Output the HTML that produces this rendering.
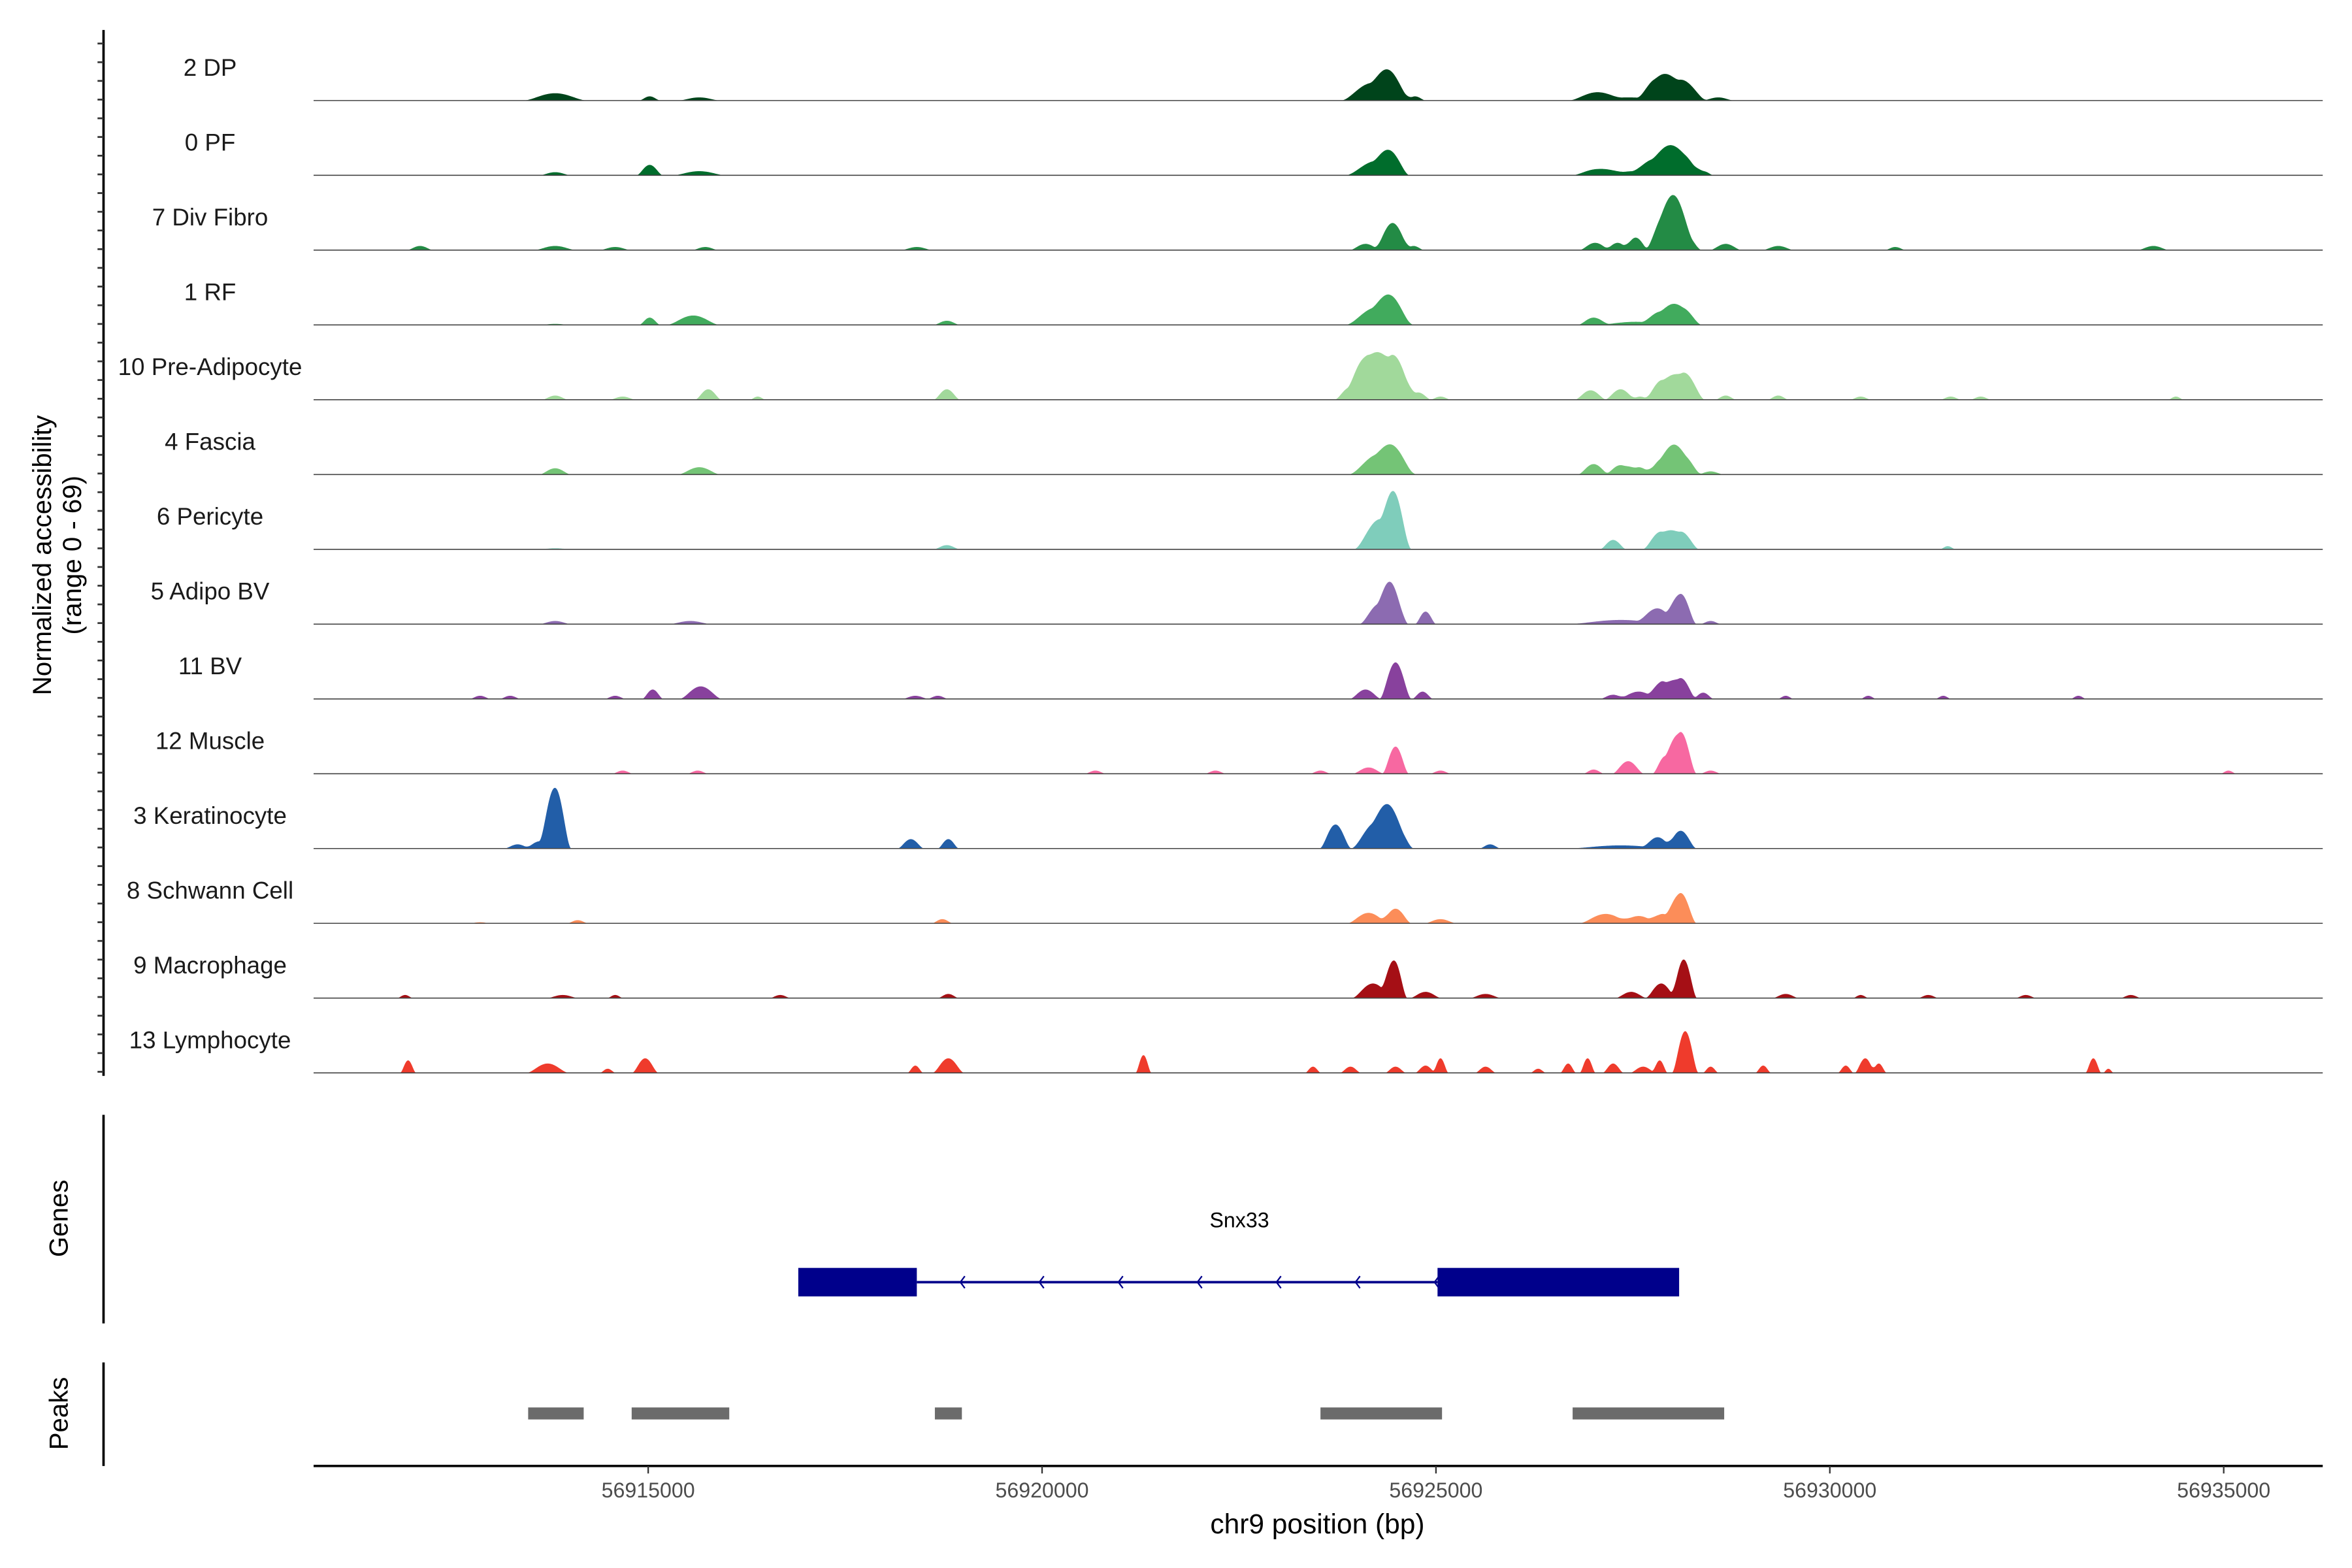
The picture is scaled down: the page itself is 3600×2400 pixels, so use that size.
<!DOCTYPE html>
<html><head><meta charset="utf-8"><style>html,body{margin:0;padding:0;background:#fff}svg{display:block}text{font-family:"Liberation Sans",Arial,sans-serif}</style></head>
<body>
<svg id="chart" width="3600" height="2400" viewBox="0 0 1567.5 1045" preserveAspectRatio="none" xmlns="http://www.w3.org/2000/svg">
<g id="tracks"></g>
<g id="frame"></g>
</svg>
<script>
// ---- data ----
const trackNames = ["2 DP","0 PF","7 Div Fibro","1 RF","10 Pre-Adipocyte","4 Fascia","6 Pericyte","5 Adipo BV","11 BV","12 Muscle","3 Keratinocyte","8 Schwann Cell","9 Macrophage","13 Lymphocyte"];
const trackColors = ["#00441b","#006d2c","#238b45","#41ab5d","#a1d99b","#74c476","#7fcdbb","#8c6bb1","#88419d","#f768a1","#225ea8","#fc8d59","#a50f15","#ef3b2c"];
const xTicks = [56915000,56920000,56925000,56930000,56935000];
const yRangeMax = 69;
// peaks per track: [position bp, half width bp, accessibility]
const peaksDP = [[56913819,229,7],[56915019,76,4],[56915648,152,3],[56924201,229,17],[56924430,152,20],[56924735,76,4],[56927021,190,7],[56927440,343,3],[56927821,152,20],[56928106,190,20],[56928583,114,3]];
const peaksPF = [[56913819,114,3],[56915019,95,10],[56915648,190,4],[56924258,229,14],[56924430,133,14],[56927059,190,6],[56927535,286,4],[56927821,190,14],[56928068,190,23],[56928392,76,4]];
const peaksDivFibro = [[56912104,95,4],[56913819,152,4],[56914581,114,3],[56915724,95,3],[56918410,114,3],[56924106,114,6],[56924449,133,26],[56924716,76,4],[56927021,114,7],[56927306,95,7],[56927535,95,12],[56927954,171,40],[56928106,152,20],[56928678,114,6],[56929345,114,4],[56930831,76,3],[56934107,114,4]];
const peaksRF = [[56913819,114,1],[56915019,76,7],[56915572,190,9],[56918791,95,4],[56924258,229,17],[56924449,152,17],[56927002,114,7],[56927535,286,3],[56927878,152,12],[56928106,152,17]];
const peaksPreAdipo = [[56913819,95,4],[56914676,95,3],[56915762,95,10],[56916391,57,3],[56918791,95,10],[56923915,114,12],[56924144,152,43],[56924449,171,43],[56924773,95,7],[56925058,76,3],[56926963,114,9],[56927344,114,10],[56927592,76,3],[56927878,133,19],[56928145,152,26],[56928678,76,4],[56929345,76,4],[56930392,76,3],[56931535,76,3],[56931916,76,3],[56934393,57,3]];
const peaksFascia = [[56913819,114,6],[56915648,152,7],[56924296,229,20],[56924487,152,14],[56927002,114,10],[56927344,114,9],[56927573,114,7],[56927916,152,17],[56928106,152,20],[56928487,95,3]];
const peaksPericyte = [[56913819,114,1],[56918791,95,4],[56924296,190,29],[56924487,114,40],[56927249,95,9],[56927859,133,17],[56928106,133,17],[56931497,57,3]];
const peaksAdipoBV = [[56913819,114,3],[56915533,152,3],[56924296,152,20],[56924449,114,29],[56924868,76,12],[56927344,381,4],[56927821,152,14],[56928106,114,29],[56928487,76,3]];
const peaksBV = [[56912866,76,3],[56913247,76,3],[56914581,76,3],[56915057,76,9],[56915667,152,12],[56918391,95,3],[56918677,76,3],[56924106,114,9],[56924487,114,35],[56924830,76,7],[56927249,95,4],[56927573,152,7],[56927878,114,17],[56928106,114,20],[56928392,76,6],[56929440,57,3],[56930488,57,3],[56931440,57,3],[56933155,57,3]];
const peaksMuscle = [[56914676,76,3],[56915629,76,3],[56920677,76,3],[56922201,76,3],[56923534,76,3],[56924144,114,6],[56924487,95,26],[56925058,76,3],[56927002,76,4],[56927440,114,12],[56927916,95,17],[56928106,114,40],[56928487,76,3],[56935060,57,3]];
const peaksKera = [[56913343,95,4],[56913628,114,7],[56913819,114,58],[56918334,95,9],[56918810,76,9],[56923725,114,23],[56924258,190,26],[56924449,152,26],[56925687,76,4],[56927344,381,3],[56927821,114,10],[56928106,114,17]];
const peaksSchwann = [[56912866,76,1],[56914105,76,3],[56918734,76,4],[56924144,152,10],[56924487,114,14],[56925058,114,4],[56927154,190,9],[56927573,152,7],[56927878,114,9],[56928106,114,29]];
const peaksMacro = [[56911914,57,3],[56913914,114,3],[56914581,57,3],[56916676,76,3],[56918810,76,4],[56924201,152,14],[56924468,95,36],[56924868,114,6],[56925630,114,4],[56927478,114,6],[56927859,114,14],[56928145,95,37],[56929440,95,4],[56930392,57,3],[56931250,76,3],[56932488,76,3],[56933821,76,3]];
const peaksLympho = [[56911952,57,12],[56913724,152,9],[56914486,57,4],[56914962,95,14],[56918391,57,7],[56918810,114,14],[56921287,57,17],[56923439,57,6],[56923915,76,6],[56924487,76,6],[56924868,76,7],[56925058,57,14],[56925630,76,6],[56926297,57,4],[56926678,57,9],[56926925,57,14],[56927249,76,9],[56927630,95,6],[56927840,57,12],[56928164,95,40],[56928487,57,6],[56929154,57,7],[56930202,57,7],[56930450,76,14],[56930621,57,9],[56933345,57,14],[56933536,38,4]];
const trackPeaks = [peaksDP,peaksPF,peaksDivFibro,peaksRF,peaksPreAdipo,peaksFascia,peaksPericyte,peaksAdipoBV,peaksBV,peaksMuscle,peaksKera,peaksSchwann,peaksMacro,peaksLympho];
const geneExons = [[56916905,56918410],[56925020,56928087]];
const geneName = "Snx33";
const peakRegions = [[56913476,56914181],[56914790,56916029],[56918639,56918982],[56923534,56925077],[56926735,56928659]];

// ---- scales ----
const X0 = 209, X1 = 1548;
const xs = bp => 432 + (bp - 56915000) * 0.0525;
const bpAt = px => 56915000 + (px - 432) / 0.0525;
const trackBase = i => 67 + i * 49.85;
const yUnit = 48 / yRangeMax;
const WIDEN = 1.8;
const NS = "http://www.w3.org/2000/svg";
function mk(tag, attrs, parent, txt){
  const e = document.createElementNS(NS, tag);
  for (const k in attrs) e.setAttribute(k, attrs[k]);
  if (txt !== undefined) e.textContent = txt;
  parent.appendChild(e); return e;
}
const tracks = document.getElementById('tracks');
const frame = document.getElementById('frame');

trackPeaks.forEach((peaks, i) => {
  const base = trackBase(i);
  const g = mk('g', {}, tracks);
  
  
  let inside = false, seg = [];
  const paths = [];
  for (let px = X0; px <= X1; px += 0.5) {
    const bp = bpAt(px);
    let v = 0;
    peaks.forEach(p => { const hw = p[1] * WIDEN; const d = Math.abs(bp - p[0]); if (d < hw) { const u = d / hw; v += p[2] * Math.pow(1 - u * u, 2); } });
    if (v > 0.05) { if (!inside) { seg = [[px, base]]; inside = true; } seg.push([px, base - v * yUnit]); }
    else if (inside) { seg.push([px, base]); paths.push(seg); inside = false; }
  }
  if (inside) { seg.push([X1, base]); paths.push(seg); }
  paths.forEach(s => {
    const p = mk('path', {d: 'M' + s.map(q => q[0].toFixed(1) + ',' + q[1].toFixed(2)).join('L') + 'Z', fill: trackColors[i]}, g);
    
    
  });
  const bl = mk('line', {x1: X0, x2: X1, y1: base, y2: base, stroke: '#444', 'stroke-width': 0.7}, g);
  
  
  const lab = mk('text', {x: 140, y: base - 16.5, 'text-anchor': 'middle', 'font-size': 16, fill: '#1a1a1a'}, g, trackNames[i]);
  
  
});

// left axis with minor ticks
const la = mk('line', {x1: 69, x2: 69, y1: 20, y2: 717, stroke: '#000', 'stroke-width': 1.6}, frame);


for (let y = 29; y <= 716; y += 12.46) {
  const t = mk('line', {x1: 65, x2: 69, y1: y, y2: y, stroke: '#333', 'stroke-width': 1.2}, frame);
  
  
}
const yt = mk('text', {transform: 'translate(34,370) rotate(-90)', 'text-anchor': 'middle', 'font-size': 17.5, fill: '#000'}, frame);


mk('tspan', {x: 0, y: 0}, yt, 'Normalized accessibility');
mk('tspan', {x: 0, y: 20}, yt, '(range 0 - 69)');

// gene panel
const ga = mk('line', {x1: 69, x2: 69, y1: 743, y2: 882, stroke: '#000', 'stroke-width': 1.6}, frame);


const gt = mk('text', {transform: 'translate(45,812) rotate(-90)', 'text-anchor': 'middle', 'font-size': 17.5}, frame, 'Genes');


const gg = mk('g', {}, frame);


const intr = mk('line', {x1: xs(geneExons[0][1]), x2: xs(geneExons[1][0]), y1: 854.5, y2: 854.5, stroke: '#00008b', 'stroke-width': 1.6}, gg);


const a0 = xs(geneExons[0][1]), a1 = xs(geneExons[1][0]);
for (let k = 0; k < 7; k++) {
  const ax = a0 + 29 + k * (a1 - a0 - 31) / 6;
  const ch = mk('path', {d: `M${ax+3},850.5 L${ax},854.5 L${ax+3},858.5`, fill: 'none', stroke: '#00008b', 'stroke-width': 1}, gg);
  
  
}
geneExons.forEach(ex => {
  const r = mk('rect', {x: xs(ex[0]), y: 845, width: xs(ex[1]) - xs(ex[0]), height: 19, fill: '#00008b'}, gg);
  
  
});
const gn = mk('text', {x: 826, y: 818, 'text-anchor': 'middle', 'font-size': 14}, gg, geneName);



// peaks panel
const pa = mk('line', {x1: 69, x2: 69, y1: 908, y2: 977, stroke: '#000', 'stroke-width': 1.6}, frame);


const pt = mk('text', {transform: 'translate(45,942) rotate(-90)', 'text-anchor': 'middle', 'font-size': 17.5}, frame, 'Peaks');


peakRegions.forEach(p => {
  const r = mk('rect', {x: xs(p[0]), y: 938, width: xs(p[1]) - xs(p[0]), height: 8, fill: '#6b6b6b'}, frame);
  
  
});

// x axis
const xa = mk('line', {x1: X0, x2: X1, y1: 977, y2: 977, stroke: '#000', 'stroke-width': 1.6}, frame);


xTicks.forEach(t => {
  const tl = mk('line', {x1: xs(t), x2: xs(t), y1: 977, y2: 982, stroke: '#333', 'stroke-width': 1}, frame);
  
  
  const tx = mk('text', {x: xs(t), y: 998, 'text-anchor': 'middle', 'font-size': 14, fill: '#4d4d4d'}, frame, String(t));
  
  
});
const xt = mk('text', {x: 878, y: 1022, 'text-anchor': 'middle', 'font-size': 18.5}, frame, 'chr9 position (bp)');


</script>
</body></html>
